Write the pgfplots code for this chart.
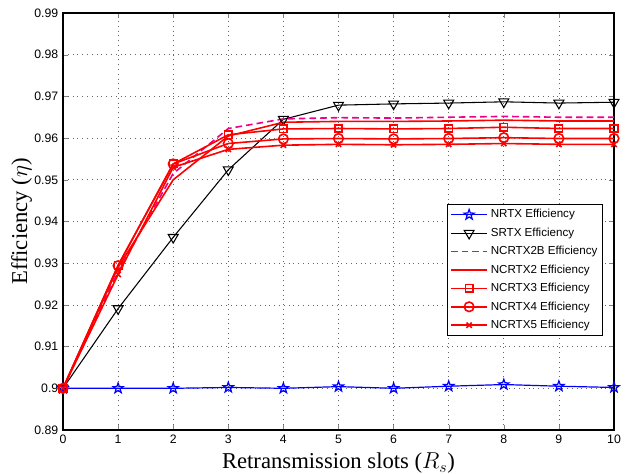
\documentclass[border=0pt]{standalone}
\usepackage{fontspec}
\setmainfont{Liberation Serif}
\newfontfamily\arial{Liberation Sans}
\usepackage{pgfplots}
\pgfplotsset{compat=1.18}

% five-pointed star outline (MATLAB 'pentagram')
\pgfdeclareplotmark{pentagram}{%
  \pgfpathmoveto{\pgfpointpolar{90}{\pgfplotmarksize}}%
  \pgfpathlineto{\pgfpointpolar{126}{0.4\pgfplotmarksize}}%
  \pgfpathlineto{\pgfpointpolar{162}{\pgfplotmarksize}}%
  \pgfpathlineto{\pgfpointpolar{198}{0.4\pgfplotmarksize}}%
  \pgfpathlineto{\pgfpointpolar{234}{\pgfplotmarksize}}%
  \pgfpathlineto{\pgfpointpolar{270}{0.4\pgfplotmarksize}}%
  \pgfpathlineto{\pgfpointpolar{306}{\pgfplotmarksize}}%
  \pgfpathlineto{\pgfpointpolar{342}{0.4\pgfplotmarksize}}%
  \pgfpathlineto{\pgfpointpolar{18}{\pgfplotmarksize}}%
  \pgfpathlineto{\pgfpointpolar{54}{0.4\pgfplotmarksize}}%
  \pgfpathclose\pgfusepathqstroke}

\pgfplotstableread{
x   nrtx    srtx    ncb     nc2     nc3     nc4     nc5
0   0.9000  0.9000  0.9000  0.9000  0.9000  0.9000  0.9000
1   0.9000  0.9191  0.9280  0.9290  0.9295  0.9294  0.9273
2   0.9000  0.9362  0.9515  0.9500  0.9538  0.9538  0.9530
3   0.9002  0.9524  0.9623  0.9605  0.9608  0.9587  0.9573
4   0.9000  0.9645  0.9646  0.9638  0.9622  0.9598  0.9583
5   0.9004  0.9679  0.9649  0.9640  0.9623  0.9599  0.9585
6   0.9000  0.9682  0.9648  0.9640  0.9622  0.9598  0.9584
7   0.9005  0.9684  0.9650  0.9641  0.9623  0.9599  0.9585
8   0.9009  0.9687  0.9652  0.9643  0.9626  0.9601  0.9587
9   0.9005  0.9684  0.9650  0.9641  0.9623  0.9599  0.9585
10  0.9002  0.9686  0.9650  0.9641  0.9623  0.9599  0.9585
}\effdata

\begin{document}
\begin{tikzpicture}
\begin{axis}[
    scale only axis,
    width=413.25pt,
    height=312.75pt,
    xmin=0, xmax=10,
    ymin=0.89, ymax=0.99,
    xtick={0,1,...,10},
    ytick={0.89,0.90,...,0.99},
    yticklabel style={/pgf/number format/fixed, /pgf/number format/precision=2},
    /pgf/number format/assume math mode=true,
    tick label style={font=\arial\fontsize{9.2}{10}\selectfont},
    tick align=inside,
    major tick length=3.5pt,
    axis line style={line width=0.8pt},
    grid=major,
    major grid style={dash pattern=on 0.8pt off 2.8pt, black!60, line width=0.5pt},
    xlabel={Retransmission slots ($R_s$)},
    ylabel={Efficiency ($\eta$)},
    label style={font=\fontsize{17}{19}\selectfont},
    xlabel style={at={(axis description cs:0.5,0)}, anchor=center, yshift=-25pt},
    ylabel style={at={(axis description cs:0,0.5)}, anchor=center, yshift=31pt},
    legend style={at={(rel axis cs:0.98,0.542)}, anchor=north east,
        font=\arial\fontsize{8.7}{10}\selectfont,
        row sep=2pt, inner sep=2pt, cells={anchor=west}},
    legend image code/.code={%
        \draw[#1, mark=none] (0cm,0cm) -- (0.96cm,0cm);
        \draw[#1, only marks] plot coordinates {(0.48cm,0cm)};},
]
\addplot[blue, line width=0.9pt, mark=pentagram, mark size=4pt] table[x=x, y=nrtx] {\effdata};
\addlegendentry{NRTX Efficiency}
\addplot[black, line width=0.8pt, mark=triangle, mark size=4.3pt, mark options={rotate=180}] table[x=x, y=srtx] {\effdata};
\addlegendentry{SRTX Efficiency}
\addplot[magenta, line width=1.2pt, dash pattern=on 5pt off 3pt] table[x=x, y=ncb] {\effdata};
\addlegendentry{NCRTX2B Efficiency}
\addplot[red, line width=1.2pt] table[x=x, y=nc2] {\effdata};
\addlegendentry{NCRTX2 Efficiency}
\addplot[red, line width=1.2pt, mark=square, mark size=2.8pt] table[x=x, y=nc3] {\effdata};
\addlegendentry{NCRTX3 Efficiency}
\addplot[red, line width=1.2pt, mark=o, mark size=3.6pt] table[x=x, y=nc4] {\effdata};
\addlegendentry{NCRTX4 Efficiency}
\addplot[red, line width=1.2pt, mark=x, mark size=2.8pt] table[x=x, y=nc5] {\effdata};
\addlegendentry{NCRTX5 Efficiency}
\end{axis}
\pgfresetboundingbox
\path (current axis.south west) ++(-47.25pt,-33pt) coordinate (bbA);
\path (current axis.north east) ++(10.5pt,9.75pt) coordinate (bbB);
\path[use as bounding box] (bbA) rectangle (bbB);
\end{tikzpicture}
\end{document}
